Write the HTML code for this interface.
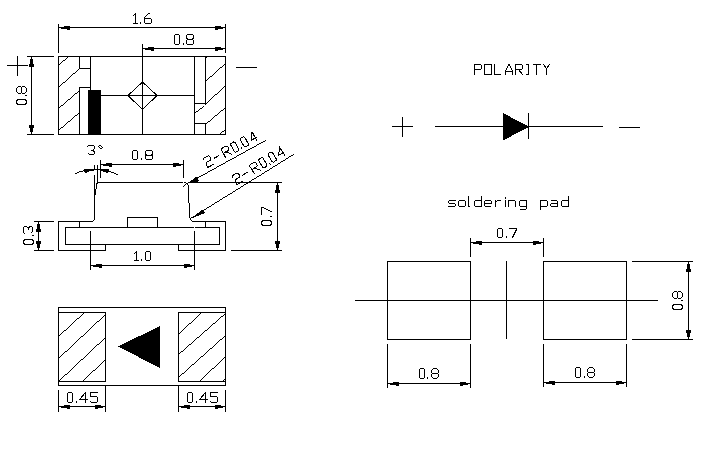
<!DOCTYPE html>
<html><head><meta charset="utf-8"><style>
html,body{margin:0;padding:0;background:#fff;}
body{width:712px;height:461px;overflow:hidden;font-family:"Liberation Sans",sans-serif;}
svg{display:block;}
path{fill:none;stroke:#000;stroke-width:1;stroke-linecap:square;}
.f{fill:#000;stroke:none;}
</style></head><body>
<svg width="712" height="461" viewBox="0 0 712 461" shape-rendering="crispEdges">
<rect width="712" height="461" fill="#fff"/>
<path d="M58.5 56.5L225.5 56.5"/>
<path d="M58.5 134.5L225.5 134.5"/>
<path d="M58.5 56.5L58.5 134.5"/>
<path d="M225.5 56.5L225.5 134.5"/>
<path d="M58.5 24.5L58.5 52.5"/>
<path d="M225.5 24.5L225.5 52.5"/>
<path d="M58.5 27.5L225.5 27.5"/>
<rect x="61" y="28" width="9" height="1" class="f"/>
<rect x="64" y="26" width="6" height="1" class="f"/>
<rect x="67" y="29" width="3" height="1" class="f"/>
<rect x="215" y="28" width="8" height="1" class="f"/>
<rect x="215" y="26" width="6" height="1" class="f"/>
<rect x="215" y="29" width="3" height="1" class="f"/>
<path transform="translate(133.5 13.5)" d="M0 2L2 0V10M0 10H4"/>
<path transform="translate(140.5 13.5)" d="M0 9V10"/>
<path transform="translate(144.5 13.5)" d="M5 0H4L1 3L0 4V9L1 10H6L7 9V6L6 5H0"/>
<path d="M142.5 44.5L142.5 134.5"/>
<path d="M142.5 48.5L225.5 48.5"/>
<rect x="145" y="49" width="9" height="1" class="f"/>
<rect x="148" y="47" width="6" height="1" class="f"/>
<rect x="151" y="50" width="3" height="1" class="f"/>
<rect x="215" y="49" width="8" height="1" class="f"/>
<rect x="215" y="47" width="6" height="1" class="f"/>
<rect x="215" y="50" width="3" height="1" class="f"/>
<path transform="translate(174.5 34.5)" d="M1 0H4L5 1V9L4 10H1L0 9V1Z"/>
<path transform="translate(183.5 34.5)" d="M0 9V10"/>
<path transform="translate(186.5 34.5)" d="M1 0H6L7 1V3L6 5H1L0 3V1ZM1 5L0 6V9L1 10H6L7 9V6L6 5"/>
<path d="M27.5 56.5L53.5 56.5"/>
<path d="M27.5 134.5L53.5 134.5"/>
<path d="M31.5 56.5L31.5 134.5"/>
<rect x="30" y="59" width="3" height="5" class="f"/>
<rect x="29" y="64" width="5" height="3" class="f"/>
<rect x="29" y="125" width="5" height="3" class="f"/>
<rect x="30" y="128" width="3" height="4" class="f"/>
<g transform="translate(16.5 104.5) rotate(-90)">
<path transform="translate(0 0)" d="M1 0H4L5 2V8L4 10H1L0 8V2Z"/>
<path transform="translate(9 0)" d="M0 9V10"/>
<path transform="translate(11 0)" d="M2 0H5L7 2V4L6 5H1L0 4V2ZM1 5L0 6V8L2 10H5L7 8V6L6 5"/>
</g>
<path d="M7.5 65.5L27.5 65.5"/>
<path d="M17.5 56.5L17.5 75.5"/>
<path d="M236.5 67.5L256.5 67.5"/>
<path d="M79.5 56.5L79.5 68.5"/>
<path d="M79.5 68.5L90.5 68.5"/>
<path d="M90.5 56.5L90.5 90.5"/>
<path d="M79.5 87.5L90.5 87.5"/>
<path d="M79.5 87.5L79.5 134.5"/>
<rect x="88" y="90" width="13" height="44" class="f"/>
<path d="M101.5 95.5L194.5 95.5"/>
<path d="M128 95.5L142.5 82L157 95.5L142.5 109.5Z"/>
<path d="M194.5 56.5L194.5 134.5"/>
<path d="M205.5 56.5L205.5 103.5"/>
<path d="M194.5 103.5L205.5 103.5"/>
<path d="M205.5 123.5L205.5 134.5"/>
<path d="M194.5 123.5L205.5 123.5"/>
<path d="M99.5 182.5L182.5 182.5"/>
<path d="M184.5 182.5L185.5 182.5"/>
<path d="M188.5 182.5L281.5 182.5"/>
<path d="M97.5 165.5L97.5 182.5"/>
<path d="M94.5 165.5L94.5 169.5"/>
<path d="M94.5 175.5L94.5 219.5"/>
<path d="M188.5 186.5L188.5 202.5"/>
<path d="M189.5 203.5L189.5 217.5"/>
<path d="M58.5 221.5L92.5 221.5"/>
<path d="M192.5 221.5L225.5 221.5"/>
<path d="M58.5 221.5L58.5 250.5"/>
<path d="M225.5 221.5L225.5 250.5"/>
<path d="M58.5 250.5L105.5 250.5"/>
<path d="M178.5 250.5L225.5 250.5"/>
<path d="M105.5 244.5L105.5 250.5"/>
<path d="M178.5 244.5L178.5 250.5"/>
<path d="M65.5 227.5L65.5 244.5"/>
<path d="M219.5 227.5L219.5 244.5"/>
<path d="M65.5 227.5L193.5 227.5"/>
<path d="M195.5 227.5L219.5 227.5"/>
<path d="M65.5 244.5L219.5 244.5"/>
<path d="M79.5 221.5L79.5 227.5"/>
<path d="M205.5 221.5L205.5 227.5"/>
<path d="M127.5 217.5L127.5 227.5"/>
<path d="M157.5 217.5L157.5 227.5"/>
<path d="M127.5 217.5L157.5 217.5"/>
<path d="M34.5 221.5L53.5 221.5"/>
<path d="M34.5 250.5L53.5 250.5"/>
<path d="M38.5 221.5L38.5 250.5"/>
<rect x="37" y="224" width="3" height="5" class="f"/>
<rect x="36" y="229" width="5" height="3" class="f"/>
<rect x="36" y="241" width="5" height="3" class="f"/>
<rect x="37" y="244" width="3" height="4" class="f"/>
<g transform="translate(23.5 244.5) rotate(-90)">
<path transform="translate(0 0)" d="M1 0H4L5 2V8L4 10H1L0 8V2Z"/>
<path transform="translate(9 0)" d="M0 9V10"/>
<path transform="translate(11 0)" d="M0 1L1 0H6L7 1V3L5 5H4M5 5L7 6V8L6 9H2L1 8"/>
</g>
<path d="M231.5 250.5L281.5 250.5"/>
<path d="M277.5 182.5L277.5 250.5"/>
<rect x="276" y="185" width="3" height="5" class="f"/>
<rect x="275" y="190" width="5" height="3" class="f"/>
<rect x="275" y="241" width="5" height="3" class="f"/>
<rect x="276" y="244" width="3" height="4" class="f"/>
<g transform="translate(261.5 225.5) rotate(-90)">
<path transform="translate(0 0)" d="M1 0H4L5 2V8L4 10H1L0 8V2Z"/>
<path transform="translate(9 0)" d="M0 9V10"/>
<path transform="translate(11 0)" d="M0 0H7V1L3 10"/>
</g>
<path d="M90.5 231.5L90.5 269.5"/>
<path d="M194.5 231.5L194.5 269.5"/>
<path d="M90.5 265.5L194.5 265.5"/>
<rect x="93" y="266" width="9" height="1" class="f"/>
<rect x="96" y="264" width="6" height="1" class="f"/>
<rect x="99" y="267" width="3" height="1" class="f"/>
<rect x="184" y="266" width="8" height="1" class="f"/>
<rect x="184" y="264" width="6" height="1" class="f"/>
<rect x="184" y="267" width="3" height="1" class="f"/>
<path transform="translate(134.5 251.5)" d="M0 2 L2 0 V9 M0 9 H4 "/>
<path transform="translate(141.5 251.5)" d="M0 8 V9 "/>
<path transform="translate(145.5 251.5)" d="M1 0 H4 L5 1 V8 L4 9 H1 L0 8 V1 Z"/>
<path d="M100.5 160.5L100.5 177.5"/>
<path d="M183.5 160.5L183.5 177.5"/>
<path d="M100.5 164.5L183.5 164.5"/>
<rect x="103" y="165" width="9" height="1" class="f"/>
<rect x="106" y="163" width="6" height="1" class="f"/>
<rect x="109" y="166" width="3" height="1" class="f"/>
<rect x="173" y="165" width="8" height="1" class="f"/>
<rect x="173" y="163" width="6" height="1" class="f"/>
<rect x="173" y="166" width="3" height="1" class="f"/>
<path transform="translate(132.5 150.5)" d="M1 0 H4 L5 1 V8 L4 9 H1 L0 8 V1 Z"/>
<path transform="translate(141.5 150.5)" d="M0 8 V9 "/>
<path transform="translate(145.5 150.5)" d="M1 0 H6 L7 1 V3 L6 5 H1 L0 3 V1 ZM1 5 L0 5 V8 L1 9 H6 L7 8 V5 L6 5 "/>
<path d="M75.5 173.5Q96 164.5 117.5 174.5"/>
<rect x="84" y="169" width="10" height="2" class="f"/>
<rect x="84" y="171" width="5" height="1" class="f"/>
<rect x="85" y="172" width="2" height="1" class="f"/>
<rect x="100" y="169" width="9" height="2" class="f"/>
<rect x="103" y="171" width="6" height="1" class="f"/>
<rect x="106" y="172" width="2" height="1" class="f"/>
<path transform="translate(87.5 145.5)" d="M0 1L1 0H6L7 1V3L5 5H4M5 5L7 6V8L6 9H2L1 8"/>
<path transform="translate(98.5 145.5)" d="M1 0L2 0L4 2L3 3L2 3L0 1Z"/>
<path class="f" d="M188 183.3L196.3 176.6L199.6 181.2Z"/>
<path class="f" d="M191 218.5L202.5 209.6L205.4 212.9Z"/>
<g transform="translate(202.9 158.7) rotate(-28.6)">
<path transform="translate(0 0)" d="M0 1L1 0H6L7 1V4L6 5H2L0 7V10H7"/>
<path transform="translate(10 0)" d="M0 5H5"/>
<path transform="translate(20.5 0)" d="M0 10V0H6L7 1V4L6 5H0M3 5L7 10"/>
<path transform="translate(31 0)" d="M1 0H4L5 1V9L4 10H1L0 9V1Z"/>
<path transform="translate(39 0)" d="M0 9V10"/>
<path transform="translate(42 0)" d="M1 0H4L5 1V9L4 10H1L0 9V1Z"/>
<path transform="translate(51 0)" d="M5 10V0L0 7H6"/>
</g>
<g transform="translate(231.7 176.1) rotate(-31.6)">
<path transform="translate(0 0)" d="M0 1L1 0H6L7 1V4L6 5H2L0 7V10H7"/>
<path transform="translate(10 0)" d="M0 5H5"/>
<path transform="translate(20.5 0)" d="M0 10V0H6L7 1V4L6 5H0M3 5L7 10"/>
<path transform="translate(31 0)" d="M1 0H4L5 1V9L4 10H1L0 9V1Z"/>
<path transform="translate(39 0)" d="M0 9V10"/>
<path transform="translate(42 0)" d="M1 0H4L5 1V9L4 10H1L0 9V1Z"/>
<path transform="translate(51 0)" d="M5 10V0L0 7H6"/>
</g>
<path d="M58.5 307.5L225.5 307.5"/>
<path d="M58.5 385.5L225.5 385.5"/>
<path d="M58.5 307.5L58.5 385.5"/>
<path d="M225.5 307.5L225.5 385.5"/>
<path d="M58.5 312.5L105.5 312.5"/>
<path d="M58.5 381.5L105.5 381.5"/>
<path d="M105.5 312.5L105.5 381.5"/>
<path d="M178.5 312.5L225.5 312.5"/>
<path d="M178.5 381.5L225.5 381.5"/>
<path d="M178.5 312.5L178.5 381.5"/>
<path class="f" d="M118 346.5L160 326L160 368Z"/>
<path d="M58.5 390.5L58.5 411.5"/>
<path d="M105.5 385.5L105.5 411.5"/>
<path d="M58.5 406.5L105.5 406.5"/>
<rect x="61" y="407" width="9" height="1" class="f"/>
<rect x="64" y="405" width="6" height="1" class="f"/>
<rect x="67" y="408" width="3" height="1" class="f"/>
<rect x="95" y="407" width="8" height="1" class="f"/>
<rect x="95" y="405" width="6" height="1" class="f"/>
<rect x="95" y="408" width="3" height="1" class="f"/>
<path transform="translate(67.5 392.5)" d="M1 0H4L5 1V9L4 10H1L0 9V1Z"/>
<path transform="translate(76.5 392.5)" d="M0 9V10"/>
<path transform="translate(79.5 392.5)" d="M6 10V0L0 7H8"/>
<path transform="translate(90.5 392.5)" d="M7 0H0V4H6L7 5V9L6 10H1L0 9"/>
<path d="M178.5 385.5L178.5 411.5"/>
<path d="M225.5 390.5L225.5 411.5"/>
<path d="M178.5 406.5L225.5 406.5"/>
<rect x="181" y="407" width="9" height="1" class="f"/>
<rect x="184" y="405" width="6" height="1" class="f"/>
<rect x="187" y="408" width="3" height="1" class="f"/>
<rect x="215" y="407" width="8" height="1" class="f"/>
<rect x="215" y="405" width="6" height="1" class="f"/>
<rect x="215" y="408" width="3" height="1" class="f"/>
<path transform="translate(187.5 392.5)" d="M1 0H4L5 1V9L4 10H1L0 9V1Z"/>
<path transform="translate(196.5 392.5)" d="M0 9V10"/>
<path transform="translate(199.5 392.5)" d="M6 10V0L0 7H8"/>
<path transform="translate(210.5 392.5)" d="M7 0H0V4H6L7 5V9L6 10H1L0 9"/>
<path transform="translate(474.5 64.5)" d="M0 10V0H6L7 1V4L6 5H0"/>
<path transform="translate(484.5 64.5)" d="M0 0H7V10H0Z"/>
<path transform="translate(494.5 64.5)" d="M0 0V10H6"/>
<path transform="translate(505.5 64.5)" d="M0 10V7L3 0H4L7 7V10M0 7H7"/>
<path transform="translate(515.5 64.5)" d="M0 10V0H6L7 1V4L6 5H0M3 5L7 10"/>
<path transform="translate(526.5 64.5)" d="M0 0H2V10H0"/>
<path transform="translate(533.5 64.5)" d="M0 0H7M3 0V10"/>
<path transform="translate(543.5 64.5)" d="M0 0L3 4V10M3 4L6 0"/>
<path d="M392.5 126.5L412.5 126.5"/>
<path d="M402.5 117.5L402.5 136.5"/>
<path d="M435.5 126.5L602.5 126.5"/>
<path class="f" d="M503 113L503 140.5L529 126.8Z"/>
<path d="M528.5 113.5L528.5 138.5"/>
<path d="M619.5 127.5L639.5 127.5"/>
<path transform="translate(448.5 200.5)" d="M7 0H1L0 1V2L1 3H6L7 4V5L6 6H0"/>
<path transform="translate(458.5 200.5)" d="M1 0H6L7 1V5L6 6H1L0 5V1Z"/>
<path transform="translate(468.5 200.5)" d="M0 -4V6H1"/>
<path transform="translate(474.5 200.5)" d="M7 -4V6M7 5L6 6H1L0 5V1L1 0H7"/>
<path transform="translate(484.5 200.5)" d="M0 3H7V1L6 0H1L0 1V5L1 6H6"/>
<path transform="translate(495.5 200.5)" d="M0 0V6M0 2L2 0H5"/>
<path transform="translate(505.5 200.5)" d="M0 0V6M0 -3V-2"/>
<path transform="translate(508.5 200.5)" d="M0 0V6M0 1L1 0H6L7 1V6"/>
<path transform="translate(519.5 200.5)" d="M7 0V8L6 9H1M7 5L6 6H1L0 5V1L1 0H7"/>
<path transform="translate(540.5 200.5)" d="M0 0V9M0 1L1 0H6L7 1V5L6 6H0"/>
<path transform="translate(550.5 200.5)" d="M1 0H6L7 1V6M7 3H1L0 4V5L1 6H7"/>
<path transform="translate(561.5 200.5)" d="M7 -4V6M7 5L6 6H1L0 5V1L1 0H7"/>
<path d="M387.5 261.5L387.5 339.5"/>
<path d="M470.5 261.5L470.5 339.5"/>
<path d="M387.5 261.5L470.5 261.5"/>
<path d="M387.5 339.5L470.5 339.5"/>
<path d="M543.5 261.5L543.5 339.5"/>
<path d="M626.5 261.5L626.5 339.5"/>
<path d="M543.5 261.5L626.5 261.5"/>
<path d="M543.5 339.5L626.5 339.5"/>
<path d="M355.5 300.5L657.5 300.5"/>
<path d="M506.5 261.5L506.5 338.5"/>
<path d="M470.5 238.5L470.5 256.5"/>
<path d="M543.5 238.5L543.5 256.5"/>
<path d="M470.5 242.5L543.5 242.5"/>
<rect x="473" y="243" width="9" height="1" class="f"/>
<rect x="476" y="241" width="6" height="1" class="f"/>
<rect x="479" y="244" width="3" height="1" class="f"/>
<rect x="533" y="243" width="8" height="1" class="f"/>
<rect x="533" y="241" width="6" height="1" class="f"/>
<rect x="533" y="244" width="3" height="1" class="f"/>
<path transform="translate(497.5 228.5)" d="M1 0 H4 L5 1 V8 L4 9 H1 L0 8 V1 Z"/>
<path transform="translate(506.5 228.5)" d="M0 8 V9 "/>
<path transform="translate(509.5 228.5)" d="M0 0 H7 V1 L3 9 "/>
<path d="M387.5 344.5L387.5 387.5"/>
<path d="M470.5 344.5L470.5 387.5"/>
<path d="M387.5 383.5L470.5 383.5"/>
<rect x="390" y="384" width="9" height="1" class="f"/>
<rect x="393" y="382" width="6" height="1" class="f"/>
<rect x="396" y="385" width="3" height="1" class="f"/>
<rect x="460" y="384" width="8" height="1" class="f"/>
<rect x="460" y="382" width="6" height="1" class="f"/>
<rect x="460" y="385" width="3" height="1" class="f"/>
<path transform="translate(419.5 368.5)" d="M1 0H4L5 1V9L4 10H1L0 9V1Z"/>
<path transform="translate(427.5 368.5)" d="M0 9V10"/>
<path transform="translate(431.5 368.5)" d="M2 0H5L7 2V4L6 5H1L0 4V2ZM1 5L0 6V8L2 10H5L7 8V6L6 5"/>
<path d="M543.5 344.5L543.5 386.5"/>
<path d="M626.5 344.5L626.5 386.5"/>
<path d="M543.5 382.5L626.5 382.5"/>
<rect x="546" y="383" width="9" height="1" class="f"/>
<rect x="549" y="381" width="6" height="1" class="f"/>
<rect x="552" y="384" width="3" height="1" class="f"/>
<rect x="616" y="383" width="8" height="1" class="f"/>
<rect x="616" y="381" width="6" height="1" class="f"/>
<rect x="616" y="384" width="3" height="1" class="f"/>
<path transform="translate(575.5 367.5)" d="M1 0H4L5 1V9L4 10H1L0 9V1Z"/>
<path transform="translate(584.5 367.5)" d="M0 9V10"/>
<path transform="translate(587.5 367.5)" d="M2 0H5L7 2V4L6 5H1L0 4V2ZM1 5L0 6V8L2 10H5L7 8V6L6 5"/>
<path d="M632.5 261.5L692.5 261.5"/>
<path d="M632.5 339.5L692.5 339.5"/>
<path d="M688.5 261.5L688.5 339.5"/>
<rect x="687" y="264" width="3" height="5" class="f"/>
<rect x="686" y="269" width="5" height="3" class="f"/>
<rect x="686" y="330" width="5" height="3" class="f"/>
<rect x="687" y="333" width="3" height="4" class="f"/>
<g transform="translate(672.5 309.5) rotate(-90)">
<path transform="translate(0 0)" d="M1 0H4L5 2V8L4 10H1L0 8V2Z"/>
<path transform="translate(9 0)" d="M0 9V10"/>
<path transform="translate(11 0)" d="M2 0H5L7 2V4L6 5H1L0 4V2ZM1 5L0 6V8L2 10H5L7 8V6L6 5"/>
</g>
<path class="f" d="M207 56h1v1h-1zM67 57h1v1h-1zM206 57h1v1h-1zM66 58h1v1h-1zM205 58h1v1h-1zM65 59h1v1h-1zM63 60h2v1h-2zM62 61h1v1h-1zM61 62h1v1h-1zM60 63h1v1h-1zM225 63h1v1h-1zM59 64h1v1h-1zM224 64h1v1h-1zM223 65h1v1h-1zM222 66h1v1h-1zM220 67h2v1h-2zM79 68h1v1h-1zM219 68h1v1h-1zM78 69h1v1h-1zM218 69h1v1h-1zM77 70h1v1h-1zM217 70h1v1h-1zM76 71h1v1h-1zM216 71h1v1h-1zM75 72h1v1h-1zM215 72h1v1h-1zM73 73h2v1h-2zM214 73h1v1h-1zM72 74h1v1h-1zM213 74h1v1h-1zM71 75h1v1h-1zM212 75h1v1h-1zM70 76h1v1h-1zM210 76h2v1h-2zM69 77h1v1h-1zM209 77h1v1h-1zM68 78h1v1h-1zM208 78h1v1h-1zM67 79h1v1h-1zM207 79h1v1h-1zM66 80h1v1h-1zM206 80h1v1h-1zM65 81h1v1h-1zM205 81h1v1h-1zM63 82h2v1h-2zM62 83h1v1h-1zM61 84h1v1h-1zM60 85h1v1h-1zM225 85h1v1h-1zM59 86h1v1h-1zM224 86h1v1h-1zM58 87h1v1h-1zM223 87h1v1h-1zM222 88h1v1h-1zM221 89h1v1h-1zM79 90h1v1h-1zM220 90h1v1h-1zM78 91h1v1h-1zM219 91h1v1h-1zM77 92h1v1h-1zM218 92h1v1h-1zM75 93h2v1h-2zM217 93h1v1h-1zM74 94h1v1h-1zM215 94h2v1h-2zM73 95h1v1h-1zM214 95h1v1h-1zM72 96h1v1h-1zM213 96h1v1h-1zM71 97h1v1h-1zM212 97h1v1h-1zM70 98h1v1h-1zM211 98h1v1h-1zM68 99h2v1h-2zM210 99h1v1h-1zM67 100h1v1h-1zM209 100h1v1h-1zM66 101h1v1h-1zM208 101h1v1h-1zM65 102h1v1h-1zM207 102h1v1h-1zM64 103h1v1h-1zM206 103h1v1h-1zM63 104h1v1h-1zM205 104h1v1h-1zM61 105h2v1h-2zM60 106h1v1h-1zM203 106h1v1h-1zM59 107h1v1h-1zM202 107h1v1h-1zM225 107h1v1h-1zM58 108h1v1h-1zM200 108h2v1h-2zM224 108h1v1h-1zM199 109h1v1h-1zM223 109h1v1h-1zM198 110h1v1h-1zM221 110h2v1h-2zM196 111h2v1h-2zM220 111h1v1h-1zM79 112h1v1h-1zM195 112h1v1h-1zM219 112h1v1h-1zM78 113h1v1h-1zM194 113h1v1h-1zM218 113h1v1h-1zM77 114h1v1h-1zM217 114h1v1h-1zM75 115h2v1h-2zM215 115h2v1h-2zM74 116h1v1h-1zM214 116h1v1h-1zM73 117h1v1h-1zM213 117h1v1h-1zM72 118h1v1h-1zM212 118h1v1h-1zM71 119h1v1h-1zM211 119h1v1h-1zM70 120h1v1h-1zM210 120h1v1h-1zM68 121h2v1h-2zM208 121h2v1h-2zM67 122h1v1h-1zM207 122h1v1h-1zM66 123h1v1h-1zM206 123h1v1h-1zM65 124h1v1h-1zM205 124h1v1h-1zM64 125h1v1h-1zM63 126h1v1h-1zM61 127h2v1h-2zM60 128h1v1h-1zM59 129h1v1h-1zM225 129h1v1h-1zM58 130h1v1h-1zM224 130h1v1h-1zM222 131h2v1h-2zM221 132h1v1h-1zM220 133h1v1h-1zM219 134h1v1h-1zM265 140h1v1h-1zM263 141h2v1h-2zM261 142h2v1h-2zM259 143h2v1h-2zM257 144h2v1h-2zM256 145h1v1h-1zM254 146h2v1h-2zM252 147h2v1h-2zM250 148h2v1h-2zM248 149h2v1h-2zM246 150h2v1h-2zM245 151h1v1h-1zM243 152h2v1h-2zM241 153h2v1h-2zM239 154h2v1h-2zM293 154h1v1h-1zM237 155h2v1h-2zM291 155h2v1h-2zM236 156h1v1h-1zM289 156h2v1h-2zM234 157h2v1h-2zM288 157h1v1h-1zM232 158h2v1h-2zM286 158h2v1h-2zM230 159h2v1h-2zM285 159h1v1h-1zM228 160h2v1h-2zM283 160h2v1h-2zM226 161h2v1h-2zM281 161h2v1h-2zM225 162h1v1h-1zM280 162h1v1h-1zM223 163h2v1h-2zM278 163h2v1h-2zM221 164h2v1h-2zM277 164h1v1h-1zM219 165h2v1h-2zM275 165h2v1h-2zM217 166h2v1h-2zM273 166h2v1h-2zM216 167h1v1h-1zM272 167h1v1h-1zM214 168h2v1h-2zM270 168h2v1h-2zM212 169h2v1h-2zM269 169h1v1h-1zM210 170h2v1h-2zM267 170h2v1h-2zM208 171h2v1h-2zM265 171h2v1h-2zM207 172h1v1h-1zM264 172h1v1h-1zM205 173h2v1h-2zM262 173h2v1h-2zM203 174h2v1h-2zM261 174h1v1h-1zM201 175h2v1h-2zM259 175h2v1h-2zM199 176h2v1h-2zM257 176h2v1h-2zM197 177h2v1h-2zM256 177h1v1h-1zM196 178h1v1h-1zM254 178h2v1h-2zM194 179h2v1h-2zM252 179h2v1h-2zM192 180h2v1h-2zM251 180h1v1h-1zM190 181h2v1h-2zM249 181h2v1h-2zM98 182h2v1h-2zM188 182h2v1h-2zM248 182h1v1h-1zM96 183h2v1h-2zM186 183h2v1h-2zM246 183h2v1h-2zM96 184h1v1h-1zM185 184h1v1h-1zM187 184h1v1h-1zM244 184h2v1h-2zM96 185h1v1h-1zM184 185h1v1h-1zM188 185h1v1h-1zM243 185h1v1h-1zM96 186h1v1h-1zM183 186h1v1h-1zM241 186h2v1h-2zM96 187h1v1h-1zM240 187h1v1h-1zM96 188h1v1h-1zM238 188h2v1h-2zM95 189h1v1h-1zM236 189h2v1h-2zM95 190h1v1h-1zM235 190h1v1h-1zM95 191h1v1h-1zM233 191h2v1h-2zM95 192h1v1h-1zM232 192h1v1h-1zM95 193h1v1h-1zM230 193h2v1h-2zM95 194h1v1h-1zM228 194h2v1h-2zM227 195h1v1h-1zM225 196h2v1h-2zM223 197h2v1h-2zM222 198h1v1h-1zM220 199h2v1h-2zM219 200h1v1h-1zM217 201h2v1h-2zM215 202h2v1h-2zM214 203h1v1h-1zM212 204h2v1h-2zM211 205h1v1h-1zM209 206h2v1h-2zM207 207h2v1h-2zM206 208h1v1h-1zM204 209h2v1h-2zM203 210h1v1h-1zM201 211h2v1h-2zM199 212h2v1h-2zM198 213h1v1h-1zM196 214h2v1h-2zM195 215h1v1h-1zM193 216h2v1h-2zM189 217h1v1h-1zM191 217h2v1h-2zM190 218h1v1h-1zM94 219h1v1h-1zM190 219h1v1h-1zM93 220h1v1h-1zM191 220h1v1h-1zM92 221h1v1h-1zM59 312h1v1h-1zM84 312h1v1h-1zM201 312h1v1h-1zM58 313h1v1h-1zM83 313h1v1h-1zM200 313h1v1h-1zM225 313h1v1h-1zM82 314h1v1h-1zM105 314h1v1h-1zM199 314h1v1h-1zM224 314h1v1h-1zM81 315h1v1h-1zM104 315h1v1h-1zM198 315h1v1h-1zM223 315h1v1h-1zM80 316h1v1h-1zM103 316h1v1h-1zM197 316h1v1h-1zM221 316h2v1h-2zM79 317h1v1h-1zM102 317h1v1h-1zM196 317h1v1h-1zM220 317h1v1h-1zM77 318h2v1h-2zM101 318h1v1h-1zM195 318h1v1h-1zM219 318h1v1h-1zM76 319h1v1h-1zM100 319h1v1h-1zM194 319h1v1h-1zM218 319h1v1h-1zM75 320h1v1h-1zM99 320h1v1h-1zM193 320h1v1h-1zM217 320h1v1h-1zM74 321h1v1h-1zM97 321h2v1h-2zM192 321h1v1h-1zM216 321h1v1h-1zM73 322h1v1h-1zM96 322h1v1h-1zM191 322h1v1h-1zM215 322h1v1h-1zM72 323h1v1h-1zM95 323h1v1h-1zM189 323h2v1h-2zM213 323h2v1h-2zM71 324h1v1h-1zM94 324h1v1h-1zM188 324h1v1h-1zM212 324h1v1h-1zM70 325h1v1h-1zM93 325h1v1h-1zM187 325h1v1h-1zM211 325h1v1h-1zM69 326h1v1h-1zM92 326h1v1h-1zM186 326h1v1h-1zM210 326h1v1h-1zM68 327h1v1h-1zM91 327h1v1h-1zM185 327h1v1h-1zM209 327h1v1h-1zM67 328h1v1h-1zM90 328h1v1h-1zM184 328h1v1h-1zM208 328h1v1h-1zM66 329h1v1h-1zM89 329h1v1h-1zM183 329h1v1h-1zM207 329h1v1h-1zM64 330h2v1h-2zM88 330h1v1h-1zM182 330h1v1h-1zM205 330h2v1h-2zM63 331h1v1h-1zM87 331h1v1h-1zM181 331h1v1h-1zM204 331h1v1h-1zM62 332h1v1h-1zM86 332h1v1h-1zM180 332h1v1h-1zM203 332h1v1h-1zM61 333h1v1h-1zM85 333h1v1h-1zM179 333h1v1h-1zM202 333h1v1h-1zM60 334h1v1h-1zM84 334h1v1h-1zM178 334h1v1h-1zM201 334h1v1h-1zM59 335h1v1h-1zM83 335h1v1h-1zM200 335h1v1h-1zM225 335h1v1h-1zM58 336h1v1h-1zM81 336h2v1h-2zM199 336h1v1h-1zM224 336h1v1h-1zM80 337h1v1h-1zM105 337h1v1h-1zM197 337h2v1h-2zM223 337h1v1h-1zM79 338h1v1h-1zM104 338h1v1h-1zM196 338h1v1h-1zM222 338h1v1h-1zM78 339h1v1h-1zM103 339h1v1h-1zM195 339h1v1h-1zM220 339h2v1h-2zM77 340h1v1h-1zM102 340h1v1h-1zM194 340h1v1h-1zM219 340h1v1h-1zM76 341h1v1h-1zM101 341h1v1h-1zM193 341h1v1h-1zM218 341h1v1h-1zM75 342h1v1h-1zM100 342h1v1h-1zM192 342h1v1h-1zM217 342h1v1h-1zM74 343h1v1h-1zM99 343h1v1h-1zM191 343h1v1h-1zM216 343h1v1h-1zM73 344h1v1h-1zM97 344h2v1h-2zM189 344h2v1h-2zM215 344h1v1h-1zM72 345h1v1h-1zM96 345h1v1h-1zM188 345h1v1h-1zM214 345h1v1h-1zM71 346h1v1h-1zM95 346h1v1h-1zM187 346h1v1h-1zM213 346h1v1h-1zM70 347h1v1h-1zM94 347h1v1h-1zM186 347h1v1h-1zM212 347h1v1h-1zM69 348h1v1h-1zM93 348h1v1h-1zM185 348h1v1h-1zM210 348h2v1h-2zM68 349h1v1h-1zM92 349h1v1h-1zM184 349h1v1h-1zM209 349h1v1h-1zM67 350h1v1h-1zM91 350h1v1h-1zM183 350h1v1h-1zM208 350h1v1h-1zM65 351h2v1h-2zM90 351h1v1h-1zM181 351h2v1h-2zM207 351h1v1h-1zM64 352h1v1h-1zM89 352h1v1h-1zM180 352h1v1h-1zM206 352h1v1h-1zM63 353h1v1h-1zM88 353h1v1h-1zM179 353h1v1h-1zM205 353h1v1h-1zM62 354h1v1h-1zM87 354h1v1h-1zM178 354h1v1h-1zM204 354h1v1h-1zM61 355h1v1h-1zM86 355h1v1h-1zM203 355h1v1h-1zM60 356h1v1h-1zM85 356h1v1h-1zM201 356h2v1h-2zM225 356h1v1h-1zM59 357h1v1h-1zM84 357h1v1h-1zM200 357h1v1h-1zM224 357h1v1h-1zM58 358h1v1h-1zM83 358h1v1h-1zM199 358h1v1h-1zM223 358h1v1h-1zM81 359h2v1h-2zM105 359h1v1h-1zM198 359h1v1h-1zM222 359h1v1h-1zM80 360h1v1h-1zM104 360h1v1h-1zM197 360h1v1h-1zM221 360h1v1h-1zM79 361h1v1h-1zM103 361h1v1h-1zM196 361h1v1h-1zM220 361h1v1h-1zM78 362h1v1h-1zM102 362h1v1h-1zM195 362h1v1h-1zM219 362h1v1h-1zM77 363h1v1h-1zM101 363h1v1h-1zM194 363h1v1h-1zM218 363h1v1h-1zM76 364h1v1h-1zM100 364h1v1h-1zM192 364h2v1h-2zM217 364h1v1h-1zM75 365h1v1h-1zM99 365h1v1h-1zM191 365h1v1h-1zM216 365h1v1h-1zM74 366h1v1h-1zM98 366h1v1h-1zM190 366h1v1h-1zM215 366h1v1h-1zM73 367h1v1h-1zM97 367h1v1h-1zM189 367h1v1h-1zM214 367h1v1h-1zM72 368h1v1h-1zM96 368h1v1h-1zM188 368h1v1h-1zM212 368h2v1h-2zM71 369h1v1h-1zM95 369h1v1h-1zM187 369h1v1h-1zM211 369h1v1h-1zM70 370h1v1h-1zM93 370h2v1h-2zM186 370h1v1h-1zM210 370h1v1h-1zM69 371h1v1h-1zM92 371h1v1h-1zM185 371h1v1h-1zM209 371h1v1h-1zM68 372h1v1h-1zM91 372h1v1h-1zM184 372h1v1h-1zM208 372h1v1h-1zM67 373h1v1h-1zM90 373h1v1h-1zM182 373h2v1h-2zM207 373h1v1h-1zM65 374h2v1h-2zM89 374h1v1h-1zM181 374h1v1h-1zM206 374h1v1h-1zM64 375h1v1h-1zM88 375h1v1h-1zM180 375h1v1h-1zM205 375h1v1h-1zM63 376h1v1h-1zM87 376h1v1h-1zM179 376h1v1h-1zM204 376h1v1h-1zM62 377h1v1h-1zM86 377h1v1h-1zM178 377h1v1h-1zM203 377h1v1h-1zM61 378h1v1h-1zM85 378h1v1h-1zM202 378h1v1h-1zM225 378h1v1h-1zM60 379h1v1h-1zM84 379h1v1h-1zM201 379h1v1h-1zM224 379h1v1h-1zM59 380h1v1h-1zM83 380h1v1h-1zM200 380h1v1h-1zM223 380h1v1h-1zM58 381h1v1h-1zM82 381h1v1h-1zM199 381h1v1h-1zM222 381h1v1h-1z"/>
</svg>
</body></html>
